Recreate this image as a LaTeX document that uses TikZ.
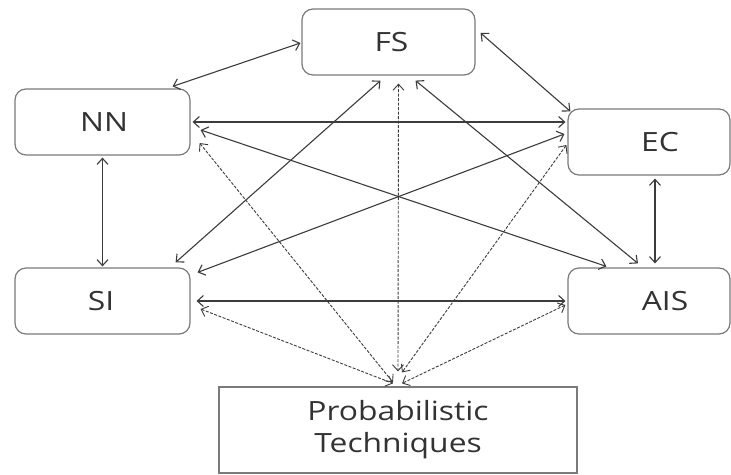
\documentclass[tikz,border=0pt]{standalone}
\usepackage{fontspec}
\setmainfont{Open Sans}
\usepackage{graphicx}
\usetikzlibrary{arrows.meta}
\newcommand{\wtxt}[1]{\scalebox{1.2}[1]{#1}}
\definecolor{boxgray}{HTML}{7A7A7A}
\definecolor{linegray}{HTML}{3C3C3C}
\definecolor{txtgray}{HTML}{333333}
\begin{document}
\begin{tikzpicture}[x=1pt,y=-1pt,
  rbox/.style={draw=boxgray, line width=1.2pt, rounded corners=11pt, inner sep=0pt,
    minimum height=66pt, text=txtgray, font=\fontsize{26.5}{32}\selectfont},
  pbox/.style={draw=boxgray, line width=1.2pt, inner sep=0pt, minimum width=358pt,
    minimum height=86pt, text=txtgray, align=center, font=\fontsize{26.5}{32}\selectfont},
  link/.style={draw=linegray, line width=1.1pt,
    {Straight Barb[length=6pt,width=11pt]}-{Straight Barb[length=6pt,width=11pt]}},
  dlink/.style={link, line width=0.9pt, dash pattern=on 3pt off 1.5pt}]
\useasboundingbox (0,0) rectangle (731,474);
\fill[white] (0,0) rectangle (731,474);

\node[rbox, minimum width=173pt] (fs) at (388.5,42) {\hspace*{6pt}\wtxt{FS}};
\node[rbox, minimum width=175pt] (nn) at (102.5,122) {\hspace*{3pt}\wtxt{NN}};
\node[rbox, minimum width=162pt] (ec) at (649,142) {\hspace*{22pt}\wtxt{EC}};
\node[rbox, minimum width=175pt] (si) at (102.5,301) {\hspace*{-3pt}\wtxt{SI}};
\node[rbox, minimum width=162pt] (ais) at (649,301) {\hspace*{32pt}\wtxt{AIS}};
\node[pbox] (pt) at (398,430) {\wtxt{Probabilistic}\\\wtxt{Techniques}};

% solid connectors
\draw[link] ([xshift=-1pt,yshift=-1pt]fs.west) -- ([xshift=-18pt,yshift=2pt]nn.north east);
\draw[link] ([xshift=5pt,yshift=9pt]fs.east) -- ([xshift=3pt,yshift=-3pt]ec.north west);
\draw[link] ([xshift=2pt]nn.east) -- ([xshift=-2pt,yshift=20pt]ec.west);
\draw[link] ([yshift=-2pt]nn.south) -- ([yshift=1pt]si.north);
\draw[link] ([xshift=6pt,yshift=-3pt]ec.south) -- ([xshift=6pt,yshift=4pt]ais.north);
\draw[link] ([xshift=6pt]si.east) -- ([xshift=-2pt]ais.west);
\draw[link] ([xshift=10pt,yshift=-8pt]nn.east) -- ([xshift=39pt,yshift=1pt]ais.north west);
\draw[link] ([xshift=7pt,yshift=-5pt]si.north east) -- ([xshift=-3pt,yshift=8pt]ec.west);
\draw[link] ([xshift=-8pt,yshift=-5pt]fs.south) -- ([xshift=-15pt,yshift=5pt]si.north east);
\draw[link] ([xshift=27pt,yshift=-5pt]fs.south) -- ([xshift=-11pt,yshift=4pt]ais.north);

% dashed connectors to Probabilistic Techniques
\draw[dlink] ([xshift=9pt,yshift=-21pt]nn.east) -- ([xshift=-5pt,yshift=4pt]pt.north);
\draw[dlink] ([xshift=10pt,yshift=-8pt]fs.south) -- ([yshift=15pt]pt.north);
\draw[dlink] ([xshift=-1pt,yshift=-3pt]ec.west) -- ([xshift=4pt,yshift=14pt]pt.north);
\draw[dlink] ([xshift=10pt,yshift=-8pt]si.east) -- ([xshift=-5pt,yshift=3pt]pt.north);
\draw[dlink] ([xshift=-2pt,yshift=-4pt]ais.west) -- ([xshift=4pt,yshift=3pt]pt.north);
\end{tikzpicture}
\end{document}
